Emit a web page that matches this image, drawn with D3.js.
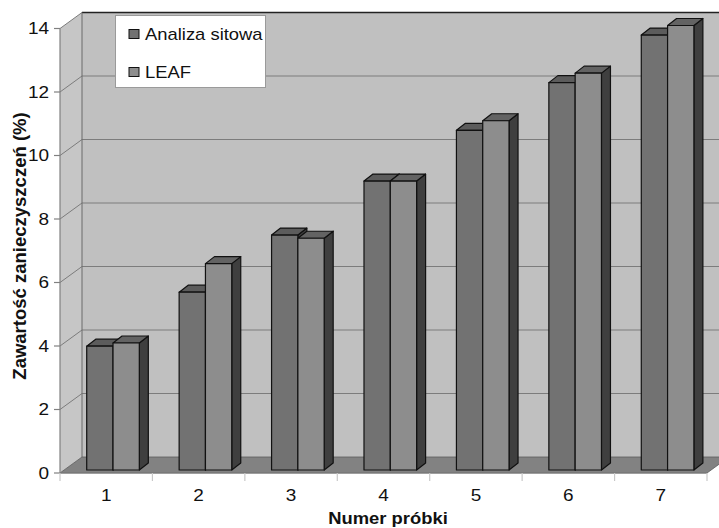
<!DOCTYPE html>
<html>
<head>
<meta charset="utf-8">
<script src="https://cdn.jsdelivr.net/npm/d3@7"></script>
<style>
  html, body { margin: 0; padding: 0; background: #fff; }
  svg { display: block; font-family: "Liberation Sans", Arial, sans-serif; }
</style>
</head>
<body>
<svg id="chart" width="719" height="528"></svg>
<script>
// Sample numbers and the two measurement methods
const categories = ["1", "2", "3", "4", "5", "6", "7"];
const seriesNames = ["Analiza sitowa", "LEAF"];
const sieveValues = [3.9, 5.6, 7.4, 9.1, 10.7, 12.2, 13.7];
const leafValues  = [4.0, 6.5, 7.3, 9.1, 11.0, 12.5, 14.0];
const yTicks = [0, 2, 4, 6, 8, 10, 12, 14];

const svg = d3.select("#chart");
const W = 719, H = 528;

// Front plane of the 3D box
const x0 = 60, x1 = 707;
const yBase = 473, yTop = 28.5;
// Depth of the walls (towards the back)
const wallDx = 22, wallDy = -16;
// Bars sit slightly behind the front edge
const barOx = 6.8, barOy = -3;
const barDx = 9, barDy = -7;
const textSx = 1.15;

const x = d3.scaleBand().domain(categories).range([x0, x1]);
const xs = d3.scaleBand().domain(seriesNames).range([0, x.bandwidth()]).paddingOuter(0.757);
const y = d3.scaleLinear().domain([0, 14]).range([yBase, yTop]);

const poly = pts => pts.map(p => p.join(",")).join(" ");

// Back wall
svg.append("polygon")
  .attr("points", poly([[x0 + wallDx, yBase + wallDy], [x1 + wallDx, yBase + wallDy],
                        [x1 + wallDx, yTop + wallDy], [x0 + wallDx, yTop + wallDy]]))
  .attr("fill", "#c0c0c0");

// Left side wall
svg.append("polygon")
  .attr("points", poly([[x0, yBase], [x0 + wallDx, yBase + wallDy],
                        [x0 + wallDx, yTop + wallDy], [x0, yTop]]))
  .attr("fill", "#c6c6c6");

// Gridlines on both walls
const grid = svg.append("g").attr("stroke", "#7c7c7c").attr("stroke-width", 1).attr("fill", "none");
yTicks.filter(v => v > 0).forEach(v => {
  const yy = y(v);
  grid.append("polyline")
    .attr("points", poly([[x0, yy], [x0 + wallDx, yy + wallDy], [x1 + wallDx, yy + wallDy]]));
});
// Top edge and inner corner of the walls
svg.append("line")
  .attr("x1", x0 + wallDx).attr("x2", x1 + wallDx)
  .attr("y1", yTop + wallDy).attr("y2", yTop + wallDy)
  .attr("stroke", "#222").attr("stroke-width", 1.5);
svg.append("line")
  .attr("x1", x0 + wallDx).attr("x2", x0 + wallDx)
  .attr("y1", yTop + wallDy).attr("y2", yBase + wallDy)
  .attr("stroke", "#6a6a6a").attr("stroke-width", 1);

// Floor
svg.append("polygon")
  .attr("points", poly([[x0, yBase], [x1, yBase], [x1 + wallDx, yBase + wallDy], [x0 + wallDx, yBase + wallDy]]))
  .attr("fill", "#828282").attr("stroke", "#5a5a5a").attr("stroke-width", 0.8);

// Bars
const data = categories.map((c, i) => ({ c, vals: [sieveValues[i], leafValues[i]] }));
const fronts = ["#727272", "#8d8d8d"];
const tops = ["#5c5c5c", "#636363"];
const side = "#3f3f3f";
const barBase = yBase + barOy;
const bars = svg.append("g").attr("stroke", "#111").attr("stroke-width", 1.2).attr("stroke-linejoin", "round");

data.forEach(d => {
  seriesNames.forEach((s, k) => {
    const v = d.vals[k];
    const bx = x(d.c) + xs(s) + barOx;
    const bw = xs.bandwidth();
    const by = barBase - (yBase - y(v));
    // side face
    bars.append("polygon")
      .attr("points", poly([[bx + bw, by], [bx + bw + barDx, by + barDy],
                            [bx + bw + barDx, barBase + barDy], [bx + bw, barBase]]))
      .attr("fill", side);
    // top face
    bars.append("polygon")
      .attr("points", poly([[bx, by], [bx + bw, by], [bx + bw + barDx, by + barDy], [bx + barDx, by + barDy]]))
      .attr("fill", tops[k]);
    // front face
    bars.append("rect")
      .attr("x", bx).attr("y", by).attr("width", bw).attr("height", barBase - by)
      .attr("fill", fronts[k]);
  });
});

// Value axis
const axisCol = "#808080";
svg.append("line").attr("x1", x0).attr("x2", x0).attr("y1", yTop).attr("y2", yBase)
  .attr("stroke", axisCol).attr("stroke-width", 1.2);
yTicks.forEach(v => {
  svg.append("line").attr("x1", x0 - 6).attr("x2", x0).attr("y1", y(v)).attr("y2", y(v))
    .attr("stroke", axisCol).attr("stroke-width", 1.2);
  svg.append("text")
    .attr("transform", `translate(${x0 - 11},${y(v)}) scale(${textSx},1)`)
    .attr("text-anchor", "end").attr("dy", "0.35em")
    .attr("font-size", 16.5).attr("fill", "#111")
    .text(v);
});

// Category axis
svg.append("line").attr("x1", x0).attr("x2", x1).attr("y1", yBase).attr("y2", yBase)
  .attr("stroke", axisCol).attr("stroke-width", 1.2);
[x0, ...categories.map(c => x(c) + x.bandwidth())].forEach(t => {
  svg.append("line").attr("x1", t).attr("x2", t).attr("y1", yBase).attr("y2", yBase + 8)
    .attr("stroke", "#c8c8c8").attr("stroke-width", 1.2);
});
categories.forEach(c => {
  svg.append("text")
    .attr("transform", `translate(${x(c) + x.bandwidth() / 2},501) scale(${textSx},1)`)
    .attr("text-anchor", "middle")
    .attr("font-size", 16.5).attr("fill", "#111")
    .text(c);
});

// Axis titles
svg.append("text")
  .attr("transform", `translate(388,524) scale(${textSx},1)`)
  .attr("text-anchor", "middle").attr("font-weight", "bold")
  .attr("font-size", 16).attr("fill", "#111")
  .text("Numer próbki");
svg.append("text")
  .attr("transform", "translate(26,246) rotate(-90)")
  .attr("text-anchor", "middle").attr("font-weight", "bold")
  .attr("font-size", 18.5).attr("fill", "#111")
  .text("Zawartość zanieczyszczeń (%)");

// Legend
const lg = svg.append("g");
lg.append("rect").attr("x", 115.5).attr("y", 15.5).attr("width", 150).attr("height", 72)
  .attr("fill", "#fff").attr("stroke", "#9a9a9a").attr("stroke-width", 1);
seriesNames.forEach((s, k) => {
  const ly = [34, 72][k];
  lg.append("rect").attr("x", 129).attr("y", ly - 4.5).attr("width", 10).attr("height", 9)
    .attr("fill", fronts[k]).attr("stroke", "#111").attr("stroke-width", 1);
  lg.append("text")
    .attr("transform", `translate(145,${ly + 6}) scale(${textSx},1)`)
    .attr("font-size", 16).attr("fill", "#111")
    .text(s);
});
</script>
</body>
</html>
